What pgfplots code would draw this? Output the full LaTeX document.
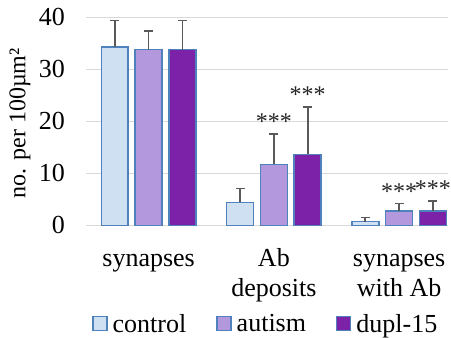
\documentclass[border=0pt]{standalone}
\usepackage{fontspec}
\setmainfont{LiberationSerif}[Extension=.ttf, UprightFont=*-Regular, BoldFont=*-Bold, ItalicFont=*-Italic, BoldItalicFont=*-BoldItalic]
\usepackage{pgfplots}
\pgfplotsset{compat=1.18}
\usetikzlibrary{plotmarks}
\definecolor{ctrl}{HTML}{CFE0F3}
\definecolor{aut}{HTML}{B398DE}
\definecolor{dup}{HTML}{7B22A8}
\definecolor{edge}{HTML}{4F81BD}
\definecolor{errc}{HTML}{595959}
\definecolor{gridc}{HTML}{D9D9D9}
\newcommand{\bigf}{\fontsize{26}{30.5}\selectfont}
\newcommand{\labf}{\fontsize{24}{28}\selectfont}
\newcommand{\starf}{\fontsize{24}{28}\selectfont}
\pgfplotsset{
  barplot/.style={ybar, bar width=0.215, bar shift=0, fill=#1, draw=edge, line width=1.6pt},
}
\begin{document}
\begin{tikzpicture}
\useasboundingbox (-86pt,-112.7pt) rectangle (365pt,225.3pt);
\begin{axis}[
  at={(0,0)}, anchor=south west,
  scale only axis, width=362pt, height=208pt,
  xmin=-0.5, xmax=2.39, ymin=0, ymax=40,
  clip=false,
  axis line style={draw=none},
  ymajorgrids, grid style={draw=gridc, line width=1.2pt},
  major tick length=0pt,
  ytick={0,10,20,30,40},
  /pgf/number format/assume math mode=true,
  yticklabel style={font=\bigf, inner sep=0pt, xshift=-21pt},
  xtick={0,1,2},
  xticklabels={synapses\\\mbox{}, Ab\\deposits, synapses\\with Ab},
  xticklabel style={font=\bigf, align=center, anchor=base, inner sep=0pt, yshift=-71.5pt},
  ylabel={no. per 100µm²},
  every axis y label/.style={at={([xshift=-66pt]axis description cs:0,0.49)}, rotate=90, anchor=center, inner sep=0pt, font=\labf},
  legend columns=3,
  legend style={draw=none, fill=none, font=\bigf, at={(0.494,-0.475)}, anchor=center,
    /tikz/every odd column/.append style={column sep=5pt},
    /tikz/every even column/.append style={column sep=30pt},
    nodes={inner sep=0pt}},
  legend image code/.code={\draw[#1, line width=1.4pt] (0pt,-6.5pt) rectangle (14pt,7.5pt);},
]
\addplot[barplot=ctrl] coordinates {(-0.27,34.3) (0.73,4.4) (1.73,0.7)};
\addlegendentry{control}
\addplot[barplot=aut] coordinates {(0,33.8) (1,11.7) (2,2.7)};
\addlegendentry{autism}
\addplot[barplot=dup] coordinates {(0.27,33.8) (1.27,13.65) (2.27,2.7)};
\addlegendentry{dupl-15}
% error bars (upper only): stems from mean to mean+SD
\addplot[forget plot, draw=errc, line width=1.7pt, mark=none, unbounded coords=jump] coordinates {
  (-0.27,34.3) (-0.27,39.4) (-0.27,nan)
  (0,33.8) (0,37.4) (0,nan)
  (0.27,33.8) (0.27,39.4) (0.27,nan)
  (0.73,4.4) (0.73,7.05) (0.73,nan)
  (1,11.7) (1,17.6) (1,nan)
  (1.27,13.65) (1.27,22.8) (1.27,nan)
  (1.73,0.7) (1.73,1.5) (1.73,nan)
  (2,2.7) (2,4.2) (2,nan)
  (2.27,2.7) (2.27,4.7)
};
% error bar caps
\addplot[forget plot, only marks, mark=-, mark size=4.5pt, mark options={draw=errc, line width=1.7pt}] coordinates {
  (-0.27,39.4) (0,37.4) (0.27,39.4)
  (0.73,7.05) (1,17.6) (1.27,22.8)
  (1.73,1.5) (2,4.2) (2.27,4.7)
};
% significance stars
\addplot[forget plot, only marks, mark=none,
  nodes near coords={***},
  every node near coord/.append style={font=\starf, anchor=base, inner sep=0pt, yshift=4pt, text=black!85}]
  coordinates {(1,17.6) (1.27,22.8) (2,4.2) (2.27,4.7)};
\end{axis}
\end{tikzpicture}
\end{document}
